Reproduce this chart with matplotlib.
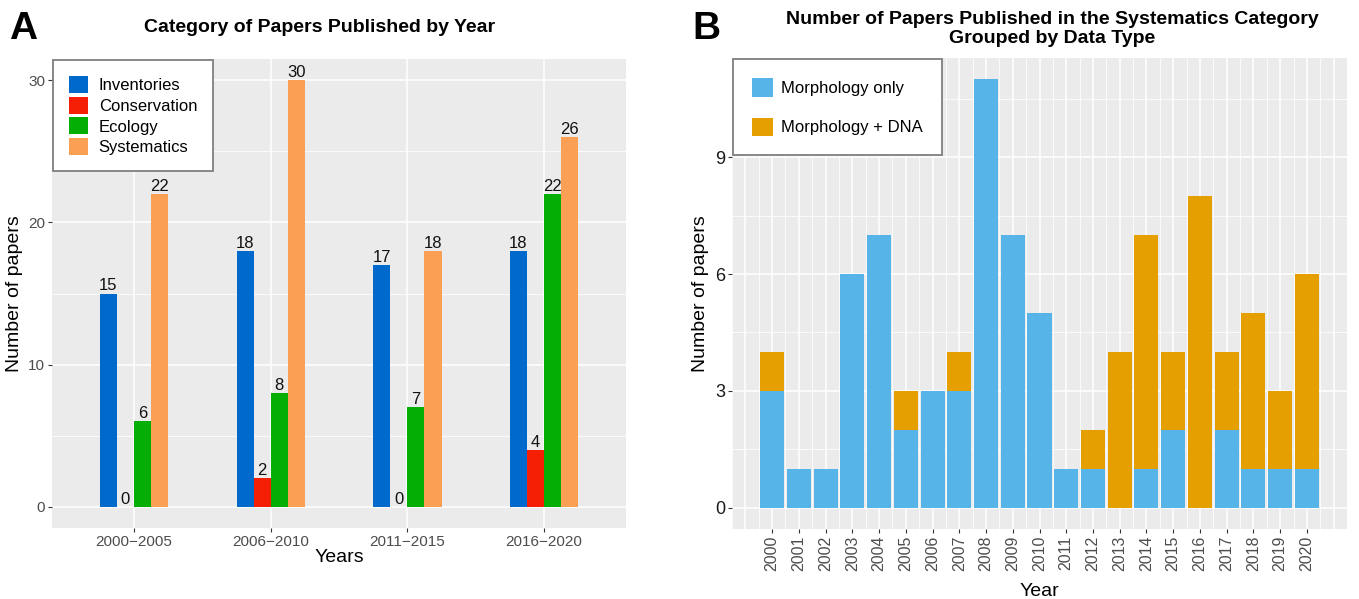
import matplotlib
matplotlib.use("Agg")
import matplotlib.pyplot as plt
from matplotlib.patches import Patch
from matplotlib.ticker import FixedLocator
import numpy as np

plt.rcParams['font.family'] = ['Liberation Sans', 'DejaVu Sans']

# ---------- Data ----------
periods = ["2000\u22122005", "2006\u22122010", "2011\u22122015", "2016\u22122020"]
categories = ["Inventories", "Conservation", "Ecology", "Systematics"]
inventories = [15, 18, 17, 18]
conservation = [0, 2, 0, 4]
ecology = [6, 8, 7, 22]
systematics = [22, 30, 18, 26]
cat_colors = ["#0069CC", "#F41F05", "#05AE05", "#FB9F55"]

years = list(range(2000, 2021))
morph_only = [3, 1, 1, 6, 7, 2, 3, 3, 11, 7, 5, 1, 1, 0, 1, 2, 0, 2, 1, 1, 1]
morph_dna = [1, 0, 0, 0, 0, 1, 0, 1, 0, 0, 0, 0, 1, 4, 6, 2, 8, 2, 4, 2, 5]
type_labels = ["Morphology only", "Morphology + DNA"]
type_colors = ["#56B4E9", "#E69F00"]

W, H = 1359, 599
fig = plt.figure(figsize=(W / 100, H / 100), dpi=100)

def ax_rect(l, t, r, b):
    return [l / W, (H - b) / H, (r - l) / W, (b - t) / H]

def style_axes(ax):
    ax.set_facecolor("#EBEBEB")
    for s in ax.spines.values():
        s.set_visible(False)
    ax.grid(which="major", color="white", linewidth=1.1)
    ax.grid(which="minor", color="white", linewidth=0.55)
    ax.set_axisbelow(True)
    ax.tick_params(which="major", length=3, width=0.8, color="#333333", pad=2)
    ax.tick_params(which="minor", length=0)

# ---------- Panel A ----------
axA = fig.add_axes(ax_rect(52, 59, 626, 528))
style_axes(axA)
x = np.arange(1, len(periods) + 1)
series = [inventories, conservation, ecology, systematics]
bw = 0.125
for i, (vals, col, lab) in enumerate(zip(series, cat_colors, categories)):
    pos = x + (i - 1.5) * bw
    axA.bar(pos, vals, width=bw, color=col, label=lab, zorder=2)
    for p, v in zip(pos, vals):
        axA.annotate(str(v), (p, v), xytext=(0, 0), textcoords="offset points",
                     ha="center", va="bottom", fontsize=12, color="#111111")
axA.set_xlim(0.4, 4.6)
axA.set_ylim(-1.5, 31.5)
axA.set_xticks(x)
axA.set_xticklabels(periods, fontsize=11, color="#4D4D4D")
axA.yaxis.set_major_locator(FixedLocator([0, 10, 20, 30]))
axA.yaxis.set_minor_locator(FixedLocator([5, 15, 25]))
axA.tick_params(axis="y", labelsize=11, labelcolor="#4D4D4D")
axA.set_xlabel("Years", fontsize=14, labelpad=0)
axA.set_ylabel("Number of papers", fontsize=14, labelpad=4)
fig.text(320 / W, 1 - 27 / H, "Category of Papers Published by Year", fontsize=14,
         fontweight="bold", ha="center", va="center")
handlesA = [Patch(facecolor=c, label=l) for c, l in zip(cat_colors, categories)]
legA = axA.legend(handles=handlesA, loc="upper left", bbox_to_anchor=(0.0, 1.0),
                  borderaxespad=0.05, fontsize=12, frameon=True, fancybox=False,
                  framealpha=1.0, handlelength=1.15, handleheight=1.2,
                  labelspacing=0.22, handletextpad=0.65, borderpad=0.95)
legA.get_frame().set_edgecolor("#7F7F7F")
legA.get_frame().set_linewidth(1.3)

# ---------- Panel B ----------
axB = fig.add_axes(ax_rect(732, 58, 1347, 529))
style_axes(axB)
axB.bar(years, morph_only, width=0.9, color=type_colors[0], label=type_labels[0], zorder=2)
axB.bar(years, morph_dna, width=0.9, bottom=morph_only, color=type_colors[1],
        label=type_labels[1], zorder=2)
axB.set_xlim(1998.5, 2021.5)
axB.set_ylim(-0.55, 11.55)
axB.xaxis.set_major_locator(FixedLocator(years))
axB.set_xticklabels([str(y) for y in years], rotation=90, fontsize=11.5, color="#4D4D4D")
axB.xaxis.set_minor_locator(FixedLocator([y + 0.5 for y in range(1998, 2021)]))
axB.yaxis.set_major_locator(FixedLocator([0, 3, 6, 9]))
axB.yaxis.set_minor_locator(FixedLocator([1.5, 4.5, 7.5, 10.5]))
axB.tick_params(axis="y", labelsize=13, labelcolor="#1A1A1A")
for xv in (1999, 2021):
    axB.axvline(xv, color="white", linewidth=1.1, zorder=0.5)
axB.set_xlabel("Year", fontsize=14, labelpad=8)
axB.set_ylabel("Number of papers", fontsize=14, labelpad=4)
fig.text(1052 / W, 1 - 29 / H,
         "Number of Papers Published in the Systematics Category\nGrouped by Data Type",
         fontsize=14, fontweight="bold", ha="center", va="center", linespacing=1.2)
handlesB = [Patch(facecolor=c, label=l) for c, l in zip(type_colors, type_labels)]
legB = axB.legend(handles=handlesB, loc="upper left", bbox_to_anchor=(0.0, 1.0),
                  borderaxespad=0.05, fontsize=12, frameon=True, fancybox=False,
                  framealpha=1.0, handlelength=1.25, handleheight=1.35,
                  labelspacing=1.25, handletextpad=0.5, borderpad=1.15)
legB.get_frame().set_edgecolor("#7F7F7F")
legB.get_frame().set_linewidth(1.3)

# ---------- Panel letters ----------
fig.text(9 / W, 1 - 29 / H, "A", fontsize=28, fontweight="bold", va="center", ha="left")
fig.text(692 / W, 1 - 29 / H, "B", fontsize=28, fontweight="bold", va="center", ha="left")

fig.savefig("out.png", dpi=100, facecolor="white")
